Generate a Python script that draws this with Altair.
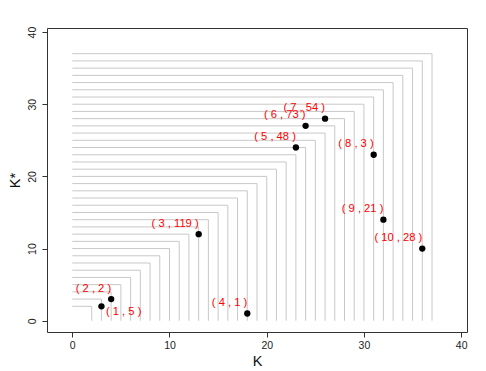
import altair as alt
import pandas as pd

# staircase levels
levels = list(range(2, 38))

# points
pt_id = [1, 2, 3, 4, 5, 6, 7, 8, 9, 10]
pt_x = [3, 4, 13, 18, 23, 24, 26, 31, 32, 36]
pt_y = [2, 3, 12, 1, 24, 27, 28, 23, 14, 10]
pt_val = [5, 2, 119, 1, 48, 73, 54, 3, 21, 28]

ticks = [0, 10, 20, 30, 40]

rows = []
for k in levels:
    rows.append({"k": k, "o": 0, "x": 0, "y": k})
    rows.append({"k": k, "o": 1, "x": k, "y": k})
    rows.append({"k": k, "o": 2, "x": k, "y": 0})
steps = pd.DataFrame(rows)

pts = pd.DataFrame({"id": pt_id, "x": pt_x, "y": pt_y, "v": pt_val})
pts["label"] = "( " + pts["id"].astype(str) + " , " + pts["v"].astype(str) + " )"

FONT = "Liberation Sans"
xs = alt.Scale(domain=[-2.6, 40.6], nice=False, zero=False)
ys = alt.Scale(domain=[-1.56, 40.56], nice=False, zero=False)

xax = alt.Axis(values=ticks, title="K", grid=False, domain=False, tickSize=5,
               tickColor="#333", labelFont=FONT, labelFontSize=10.5, labelColor="#222",
               labelPadding=3, titleFont=FONT, titleFontSize=14.5, titleFontWeight="normal",
               titleColor="#111", titlePadding=4)
yax = alt.Axis(values=ticks, title="K*", grid=False, domain=False, tickSize=5,
               tickColor="#333", labelFont=FONT, labelFontSize=10.5, labelColor="#222",
               labelAngle=-90, labelAlign="center", labelBaseline="bottom",
               labelPadding=5, titleFont=FONT, titleFontSize=14.5, titleFontWeight="normal",
               titleColor="#111", titlePadding=5)

lines = alt.Chart(steps).mark_line(color="#c8c8c8", strokeWidth=1).encode(
    x=alt.X("x:Q", scale=xs, axis=xax),
    y=alt.Y("y:Q", scale=ys, axis=yax),
    detail="k:N",
    order="o:Q",
)

points = alt.Chart(pts).mark_circle(color="black", opacity=1, size=40).encode(
    x=alt.X("x:Q", scale=xs), y=alt.Y("y:Q", scale=ys)
)

lab_main = alt.Chart(pts).transform_filter("datum.id != 1").mark_text(
    color="red", font=FONT, fontSize=11.2, align="right", baseline="alphabetic", dy=-7.5
).encode(x=alt.X("x:Q", scale=xs), y=alt.Y("y:Q", scale=ys), text="label:N")

lab_one = alt.Chart(pts).transform_filter("datum.id == 1").mark_text(
    color="red", font=FONT, fontSize=11.2, align="left", baseline="alphabetic", dx=4.5, dy=8.5
).encode(x=alt.X("x:Q", scale=xs), y=alt.Y("y:Q", scale=ys), text="label:N")

chart = alt.layer(lines, points, lab_main, lab_one).properties(
    width=420, height=304,
    autosize="none",
    padding={"left": 39, "top": 20, "right": 10, "bottom": 38},
).configure_view(stroke="#333", strokeWidth=1)

chart.save("out.html", embed_options={"renderer": "svg", "actions": False})
